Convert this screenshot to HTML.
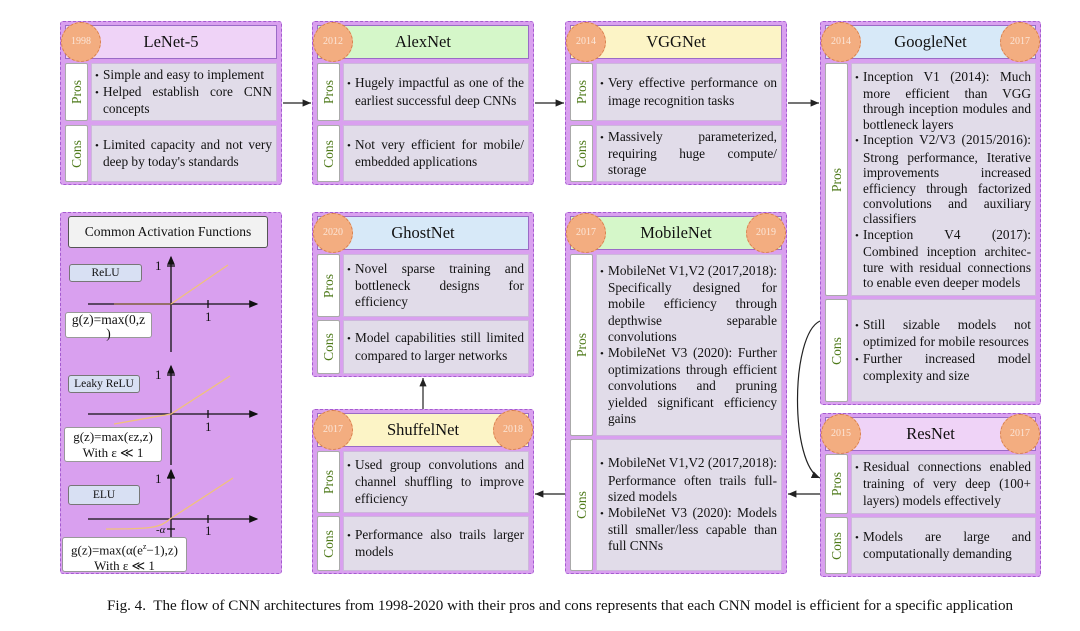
<!DOCTYPE html>
<html><head><meta charset="utf-8"><style>
*{box-sizing:border-box;margin:0;padding:0}
body{width:1080px;height:631px;background:#fff;position:relative;overflow:hidden;font-family:"Liberation Serif",serif;color:#111}
.card{position:absolute;background:#d9a0ef;border:1.5px dashed #a55bd0;border-radius:3px}
.title{position:absolute;left:4px;right:4px;top:3px;height:34px;border:1.5px solid #9a6bc6;font-size:16.5px;text-align:center;line-height:31px}
.circ{position:absolute;top:0px;width:40px;height:40px;border-radius:50%;background:#f3ad80;border:1px dashed #d9804c;color:#fbe6d8;font-size:10px;text-align:center;line-height:38px}
.sec{position:absolute;left:4px;right:4px}
.lab{position:absolute;left:0;top:0;bottom:0;width:23px;background:#fff;border:1px solid #aaa;border-radius:2px}
.lab span{position:absolute;left:50%;top:50%;transform:translate(-50%,-50%) rotate(-90deg);color:#4e7a1a;font-size:13.5px;white-space:nowrap}
.txt{position:absolute;left:26px;right:0;top:0;bottom:0;background:#e1dce9;border:1px solid #cdb7dc;display:flex;flex-direction:column;justify-content:center;padding:0 4px 0 3px;font-size:13.3px;line-height:16.2px;text-align:justify}
.txt p{padding-left:8px;text-indent:-8px}
.txt p::before{content:"\2022";display:inline-block;width:8px;text-indent:0;font-size:11px}
.abox{position:absolute;background:#fff;border:1px solid #999;border-radius:3px;text-align:center}
.lbox{position:absolute;background:#d8e0f3;border:1px solid #777;border-radius:3px;font-size:11.5px;text-align:center}
</style></head><body>

<svg width="1080" height="631" style="position:absolute;left:0;top:0">
<defs><marker id="a" markerWidth="8" markerHeight="8" refX="7" refY="4" orient="auto"><path d="M0,1 L7,4 L0,7 z" fill="#222"/></marker></defs>
<g stroke="#222" stroke-width="1.2" fill="none">
<line x1="283" y1="103" x2="311" y2="103" marker-end="url(#a)"/>
<line x1="535" y1="103" x2="564" y2="103" marker-end="url(#a)"/>
<line x1="788" y1="103" x2="819" y2="103" marker-end="url(#a)"/>
<path d="M820,321 C790,335 790,465 820,478" marker-end="url(#a)"/>
<line x1="820" y1="494" x2="788" y2="494" marker-end="url(#a)"/>
<line x1="565" y1="494" x2="535" y2="494" marker-end="url(#a)"/>
<line x1="423" y1="409" x2="423" y2="378" marker-end="url(#a)"/>
</g>
</svg>

<!-- LeNet -->
<div class="card" style="left:60px;top:21px;width:222px;height:164px">
<div class="title" style="background:#efd3f7">LeNet-5</div>
<div class="circ" style="left:0">1998</div>
<div class="sec" style="top:41px;height:58px"><div class="lab"><span>Pros</span></div><div class="txt"><p>Simple and easy to implement</p><p>Helped establish core CNN concepts</p></div></div>
<div class="sec" style="top:103px;height:57px"><div class="lab"><span>Cons</span></div><div class="txt"><p>Limited capacity and not very deep by today's standards</p></div></div>
</div>

<!-- AlexNet -->
<div class="card" style="left:312px;top:21px;width:222px;height:164px">
<div class="title" style="background:#d5f7c9">AlexNet</div>
<div class="circ" style="left:0">2012</div>
<div class="sec" style="top:41px;height:58px"><div class="lab"><span>Pros</span></div><div class="txt"><p>Hugely impactful as one of the earliest successful deep CNNs</p></div></div>
<div class="sec" style="top:103px;height:57px"><div class="lab"><span>Cons</span></div><div class="txt"><p>Not very efficient for mobile/ embedded applications</p></div></div>
</div>

<!-- VGG -->
<div class="card" style="left:565px;top:21px;width:222px;height:164px">
<div class="title" style="background:#fcf4c6">VGGNet</div>
<div class="circ" style="left:0">2014</div>
<div class="sec" style="top:41px;height:58px"><div class="lab"><span>Pros</span></div><div class="txt"><p>Very effective performance on image recognition tasks</p></div></div>
<div class="sec" style="top:103px;height:57px"><div class="lab"><span>Cons</span></div><div class="txt"><p>Massively parameterized, requiring huge compute/ storage</p></div></div>
</div>

<!-- GoogleNet -->
<div class="card" style="left:820px;top:21px;width:221px;height:384px">
<div class="title" style="background:#d7e9f8">GoogleNet</div>
<div class="circ" style="left:0">2014</div>
<div class="circ" style="right:0">2017</div>
<div class="sec" style="top:41px;height:233px"><div class="lab"><span>Pros</span></div><div class="txt" style="line-height:15.4px"><p>Inception V1 (2014): Much more efficient than VGG through inception modules and bottleneck layers</p><p>Inception V2/V3 (2015/2016): Strong performance, Iterative improvements increased efficiency through factorized convolutions and auxiliary classifiers</p><p>Inception V4 (2017): Combined inception architec-ture with residual connections to enable even deeper models</p></div></div>
<div class="sec" style="top:277px;height:103px"><div class="lab"><span>Cons</span></div><div class="txt"><p>Still sizable models not optimized for mobile resources</p><p>Further increased model complexity and size</p></div></div>
</div>

<!-- ResNet -->
<div class="card" style="left:820px;top:413px;width:221px;height:164px">
<div class="title" style="background:#efd3f7">ResNet</div>
<div class="circ" style="left:0">2015</div>
<div class="circ" style="right:0">2017</div>
<div class="sec" style="top:40px;height:60px"><div class="lab"><span>Pros</span></div><div class="txt"><p>Residual connections enabled training of very deep (100+ layers) models effectively</p></div></div>
<div class="sec" style="top:103px;height:57px"><div class="lab"><span>Cons</span></div><div class="txt"><p>Models are large and computationally demanding</p></div></div>
</div>

<!-- GhostNet -->
<div class="card" style="left:312px;top:212px;width:222px;height:165px">
<div class="title" style="background:#d7e9f8">GhostNet</div>
<div class="circ" style="left:0">2020</div>
<div class="sec" style="top:41px;height:63px"><div class="lab"><span>Pros</span></div><div class="txt"><p>Novel sparse training and bottleneck designs for efficiency</p></div></div>
<div class="sec" style="top:107px;height:54px"><div class="lab"><span>Cons</span></div><div class="txt"><p>Model capabilities still limited compared to larger networks</p></div></div>
</div>

<!-- MobileNet -->
<div class="card" style="left:565px;top:212px;width:222px;height:362px">
<div class="title" style="background:#d5f7c9">MobileNet</div>
<div class="circ" style="left:0">2017</div>
<div class="circ" style="right:0">2019</div>
<div class="sec" style="top:41px;height:182px"><div class="lab"><span>Pros</span></div><div class="txt"><p>MobileNet V1,V2 (2017,2018): Specifically designed for mobile efficiency through depthwise separable convolutions</p><p>MobileNet V3 (2020): Further optimizations through efficient convolutions and pruning yielded significant efficiency gains</p></div></div>
<div class="sec" style="top:226px;height:132px"><div class="lab"><span>Cons</span></div><div class="txt"><p>MobileNet V1,V2 (2017,2018): Performance often trails full-sized models</p><p>MobileNet V3 (2020): Models still smaller/less capable than full CNNs</p></div></div>
</div>

<!-- ShuffelNet -->
<div class="card" style="left:312px;top:409px;width:222px;height:165px">
<div class="title" style="background:#fcf4c6">ShuffelNet</div>
<div class="circ" style="left:0">2017</div>
<div class="circ" style="right:0">2018</div>
<div class="sec" style="top:41px;height:62px"><div class="lab"><span>Pros</span></div><div class="txt"><p>Used group convolutions and channel shuffling to improve efficiency</p></div></div>
<div class="sec" style="top:106px;height:55px"><div class="lab"><span>Cons</span></div><div class="txt"><p>Performance also trails larger models</p></div></div>
</div>

<!-- Activation panel -->
<div class="card" style="left:60px;top:212px;width:222px;height:362px"></div>
<div class="abox" style="left:68px;top:216px;width:200px;height:32px;background:#f2f2f2;border:1.5px solid #555;font-size:13.5px;line-height:30px">Common Activation Functions</div>
<svg width="1080" height="631" style="position:absolute;left:0;top:0">
<defs><marker id="b" markerWidth="8" markerHeight="8" refX="6" refY="4" orient="auto"><path d="M0,1 L7,4 L0,7 z" fill="#111"/></marker></defs>
<g stroke="#111" stroke-width="1.3" fill="none">
<line x1="88" y1="304" x2="257" y2="304" marker-end="url(#b)"/>
<line x1="171" y1="352" x2="171" y2="257" marker-end="url(#b)"/>
<line x1="167" y1="266" x2="175" y2="266"/><line x1="208" y1="300" x2="208" y2="308"/>
<line x1="88" y1="414" x2="257" y2="414" marker-end="url(#b)"/>
<line x1="171" y1="465" x2="171" y2="366" marker-end="url(#b)"/>
<line x1="167" y1="375" x2="175" y2="375"/><line x1="208" y1="410" x2="208" y2="418"/>
<line x1="88" y1="519" x2="257" y2="519" marker-end="url(#b)"/>
<line x1="171" y1="540" x2="171" y2="470" marker-end="url(#b)"/>
<line x1="167" y1="478" x2="175" y2="478"/><line x1="208" y1="515" x2="208" y2="523"/><line x1="167" y1="529" x2="175" y2="529"/>
</g>
<g stroke="#f0c27a" stroke-width="1.3" fill="none">
<line x1="114" y1="304" x2="171" y2="304" stroke="#8a6a3a"/>
<line x1="171" y1="304" x2="228" y2="265"/>
<path d="M114,424 L171,414 L230,376"/>
<path d="M106,529 C150,529 160,528 170,519 L233,478"/>
</g>
<g font-family="Liberation Serif" font-size="13" fill="#111">
<text x="155" y="270">1</text><text x="205" y="321">1</text>
<text x="155" y="379">1</text><text x="205" y="431">1</text>
<text x="155" y="483">1</text><text x="205" y="535">1</text>
<text x="156" y="533" font-style="italic" font-size="11">-α</text>
</g>
</svg>
<div class="lbox" style="left:69px;top:264px;width:73px;height:18px;line-height:16px">ReLU</div>
<div class="lbox" style="left:68px;top:375px;width:72px;height:18px;line-height:16px">Leaky ReLU</div>
<div class="lbox" style="left:68px;top:485px;width:72px;height:20px;line-height:18px">ELU</div>
<div class="abox" style="left:65px;top:312px;width:87px;height:26px;font-size:13.5px;line-height:14px;overflow:visible">g(z)=max(0,z<br>)</div>
<div class="abox" style="left:64px;top:427px;width:98px;height:35px;font-size:13px;line-height:16px;padding-top:1px">g(z)=max(εz,z)<br>With ε ≪ 1</div>
<div class="abox" style="left:62px;top:537px;width:125px;height:35px;font-size:13px;line-height:16px;padding-top:1px">g(z)=max(α(e<sup style="font-size:8px">z</sup>−1),z)<br>With ε ≪ 1</div>

<div style="position:absolute;left:107px;top:598px;font-size:15.1px;white-space:nowrap">Fig. 4.&nbsp; The flow of CNN architectures from 1998-2020 with their pros and cons represents that each CNN model is efficient for a specific application</div>
</body></html>
